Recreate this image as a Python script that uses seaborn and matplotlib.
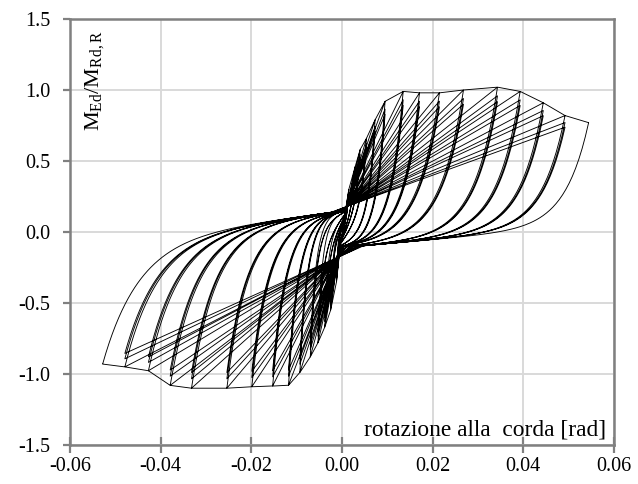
import numpy as np
import pandas as pd
import matplotlib
matplotlib.use("Agg")
import matplotlib.pyplot as plt
import seaborn as sns

# ---- data (peak points of each amplitude level) ----
rot_pos = [0.0015, 0.0029, 0.0040, 0.0054, 0.0073, 0.0095, 0.0135, 0.0171,
           0.0215, 0.0268, 0.0343, 0.0393, 0.0444, 0.0492, 0.0544]
mom_pos = [0.30, 0.46, 0.58, 0.66, 0.79, 0.92, 0.99, 0.98,
           0.98, 1.00, 1.02, 0.99, 0.91, 0.82, 0.77]
rot_neg = [-0.0012, -0.0025, -0.0038, -0.0053, -0.0070, -0.0093, -0.0118, -0.0153,
           -0.0199, -0.0254, -0.0332, -0.0379, -0.0427, -0.0479, -0.0528]
mom_neg = [-0.35, -0.55, -0.67, -0.78, -0.88, -0.99, -1.08, -1.085,
           -1.09, -1.10, -1.10, -1.08, -0.977, -0.95, -0.93]
n_cycles = [3, 3, 3, 3, 3, 3, 3, 3, 3, 3, 3, 3, 3, 3, 1]
cycle_factor = [1.00, 0.94, 0.90]

x_ticks = [-0.06, -0.04, -0.02, 0.00, 0.02, 0.04, 0.06]
y_ticks = [-1.5, -1.0, -0.5, 0.0, 0.5, 1.0, 1.5]
x_label = "rotazione alla  corda [rad]"
y_label = r"$\mathrm{M_{Ed}/M_{Rd,R}}$"


def fan(th, kt, km):
    kt = np.asarray(kt, float)
    km = np.asarray(km, float)
    o = np.argsort(kt)
    kt, km = kt[o], km[o]
    y = np.interp(th, kt, km)
    sl = (km[1] - km[0]) / (kt[1] - kt[0])
    sr = (km[-1] - km[-2]) / (kt[-1] - kt[-2])
    y = np.where(th < kt[0], km[0] + sl * (th - kt[0]), y)
    y = np.where(th > kt[-1], km[-1] + sr * (th - kt[-1]), y)
    return y


def up_branch(th0, m0, th_pk, m_pk, prev, a, n=300):
    s = min(1.0, a / 0.008)
    th = np.linspace(th0, th_pk, n)
    flat = 0.15 * s + (4.2 + 110 * (1 - s)) * th
    kt, km = [0.001 * s], [0.18 * s]
    if prev is not None:
        kt.append(prev[0]); km.append(prev[1])
    kt.append(th_pk); km.append(m_pk)
    B = np.maximum(flat, fan(th, kt, km))
    r = abs(th0)
    tau = max(min(0.2 * r, 0.0015 + 0.115 * r), 1e-4)
    return th, B + (m0 - B) * np.exp(-(th - th0) / tau)


def dn_branch(th0, m0, th_pk, m_pk, prev, a, n=300):
    s = min(1.0, a / 0.008)
    th = np.linspace(th0, th_pk, n)
    flat = -0.11 * s + (2.8 + 110 * (1 - s)) * th
    kt, km = [-0.001 * s], [-0.18 * s]
    if prev is not None:
        kt.append(prev[0]); km.append(prev[1])
    kt.append(th_pk); km.append(m_pk)
    B = np.minimum(flat, fan(th, kt, km))
    r = abs(th0)
    tau = max(min(0.22 * r, 0.005), 1e-4)
    return th, B + (m0 - B) * np.exp(-(th0 - th) / tau)


xs, ys = [], []
cur_th, cur_m = 0.0, 0.0
for i in range(len(rot_pos)):
    for c in range(n_cycles[i]):
        f = cycle_factor[c]
        pp = (rot_pos[i - 1], mom_pos[i - 1]) if (c == 0 and i > 0) else None
        t, m = up_branch(cur_th, cur_m, rot_pos[i], mom_pos[i] * f, pp, rot_pos[i])
        xs.append(t); ys.append(m)
        cur_th, cur_m = rot_pos[i], mom_pos[i] * f
        pn = (rot_neg[i - 1], mom_neg[i - 1]) if (c == 0 and i > 0) else None
        t, m = dn_branch(cur_th, cur_m, rot_neg[i], mom_neg[i] * f, pn, rot_pos[i])
        xs.append(t); ys.append(m)
        cur_th, cur_m = rot_neg[i], mom_neg[i] * f
# final unloading from the last negative peak back to zero rotation
t, m = up_branch(cur_th, cur_m, 0.0, 0.15, None, rot_pos[-1])
xs.append(t); ys.append(m)

df = pd.DataFrame({"theta": np.concatenate(xs), "M": np.concatenate(ys)})

# ---- styling ----
sns.set_theme(style="whitegrid")
plt.rcParams["font.family"] = ["Liberation Serif", "DejaVu Serif"]
plt.rcParams["mathtext.fontset"] = "custom"
plt.rcParams["mathtext.rm"] = "Liberation Serif"
plt.rcParams["mathtext.it"] = "Liberation Serif:italic"
plt.rcParams["axes.unicode_minus"] = False

fig = plt.figure(figsize=(6.38, 4.84), dpi=100)
ax = fig.add_axes([70 / 638, 1 - 445 / 484, 544 / 638, 426 / 484])
ax.set_facecolor("white")

sns.lineplot(data=df, x="theta", y="M", sort=False, estimator=None,
             color="black", linewidth=0.65, ax=ax)

ax.set_xlim(-0.06, 0.06)
ax.set_ylim(-1.5, 1.5)
ax.set_xticks(x_ticks)
ax.set_yticks(y_ticks)
ax.set_xticklabels([f"{v:.2f}" for v in x_ticks])
ax.set_yticklabels([f"{v:.1f}" for v in y_ticks])
ax.set_xlabel("")
ax.set_ylabel("")

ax.grid(True, color="#d9d9d9", linewidth=1.4)
for sp in ax.spines.values():
    sp.set_visible(True)
    sp.set_color("#808080")
    sp.set_linewidth(1.8)

ax.tick_params(axis="x", direction="inout", length=11, width=1.6, color="#808080",
               labelsize=14.5, labelcolor="black", pad=3, bottom=True)
ax.tick_params(axis="y", direction="out", length=5, width=1.6, color="#808080",
               labelsize=14.5, labelcolor="black", pad=9, left=True)

ax.text(0.985, 0.035, x_label, transform=ax.transAxes, ha="right", va="center",
        fontsize=16.8, color="black")
ax.text(0.046, 0.855, y_label, transform=ax.transAxes, ha="center", va="center",
        rotation=90, fontsize=16, color="black")

fig.savefig("out.png", dpi=100, facecolor="white")
